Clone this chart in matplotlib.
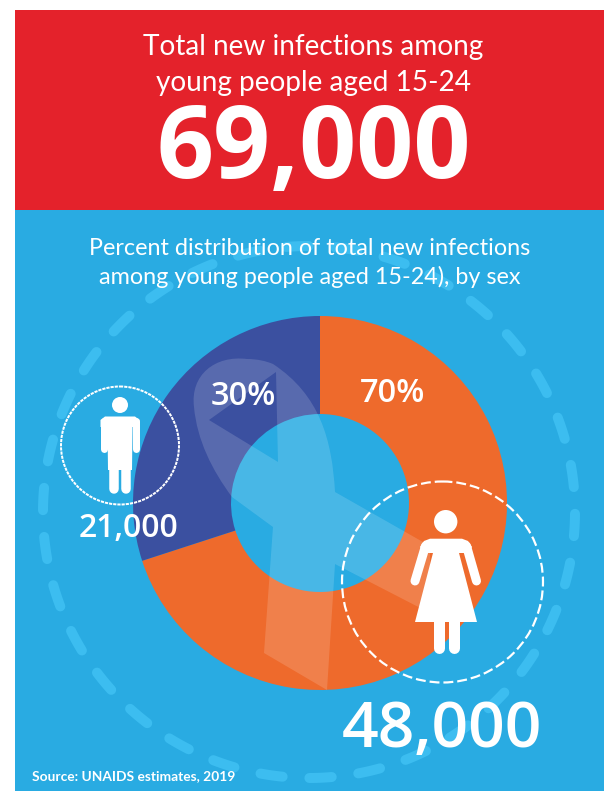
#!/usr/bin/env python3
# Infographic: new infections among young people, split by sex.
# Axes run in pixels of the 604x791 picture, y pointing down.

import numpy as np
import matplotlib
matplotlib.use('Agg')
import matplotlib.pyplot as plt
from matplotlib.patches import Circle, PathPatch, Polygon, Rectangle
from matplotlib.path import Path

sexes = ['Female', 'Male']
percents = [70, 30]
counts = [48000, 21000]

title_lines = ['Total new infections among', 'young people aged 15-24']
subtitle_lines = ['Percent distribution of total new infections',
                  'among young people aged 15-24), by sex']
source = 'Source: UNAIDS estimates, 2019'

RED = '#e4222b'
BLUE = '#29abe2'
RING = '#3cbdf0'
ORANGE = '#ee6a2c'
NAVY = '#3b50a0'
TEXT_FONT = 'Lato'
NUM_FONT = 'Open Sans'


def px(n):
    # line widths are in points, the picture is 100 dpi
    return n * 72 / 100


def draw_ring(ax):
    cx, cy, r = 309, 512, 266
    for i in range(34):
        mid = np.radians(2.8 + i * 360 / 34)
        t = np.linspace(mid - 0.042, mid + 0.042, 12)
        ax.plot(cx + r * np.cos(t), cy + r * np.sin(t), color=RING, lw=px(10),
                solid_capstyle='round', zorder=0.5)


def draw_ribbon(ax):
    verts = [(232, 497),
             (212, 470), (197, 440), (194, 407),
             (190, 375), (215, 355), (247, 359),
             (257, 359), (266, 361), (273, 364),
             (320, 395), (332, 440), (335, 492),
             (430, 546), (430, 613), (335, 564), (327, 690), (264, 653), (273, 527),
             (232, 497),
             (209, 420), (278, 462), (276, 372), (209, 420)]
    codes = ([Path.MOVETO] + [Path.CURVE4] * 12 + [Path.LINETO] * 6 + [Path.CLOSEPOLY]
             + [Path.MOVETO] + [Path.LINETO] * 2 + [Path.CLOSEPOLY])
    ax.add_patch(PathPatch(Path(verts, codes), facecolor='white', edgecolor='none',
                           alpha=0.15, zorder=3))


def limb(ax, xs, ys, width):
    ax.plot(xs, ys, color='white', lw=px(width), solid_capstyle='round', zorder=5)


def draw_man(ax):
    ax.add_patch(Circle((120, 445.5), 59, fill=False, edgecolor='white', lw=px(2),
                        linestyle=(0, (1.6, 0.5)), zorder=4))
    ax.add_patch(Circle((120, 405), 8, color='white', lw=0, zorder=5))
    ax.add_patch(Polygon([(105, 416.5), (135, 416.5), (139.5, 420), (139.5, 427),
                          (132.5, 427), (132, 470), (108, 470), (107.5, 427),
                          (100.5, 427), (100.5, 420)],
                         color='white', lw=0, zorder=5))
    limb(ax, [104, 104], [421, 449], 7)
    limb(ax, [136, 136], [421, 449], 7)
    limb(ax, [114, 114], [455, 488.5], 9.5)
    limb(ax, [126, 126], [455, 488.5], 9.5)


def draw_woman(ax):
    ax.add_patch(Circle((442.5, 582), 100.5, fill=False, edgecolor='white', lw=px(2.2),
                        linestyle=(0, (4.5, 1.8)), zorder=4))
    ax.add_patch(Circle((445.7, 521.7), 11.7, color='white', lw=0, zorder=5))
    ax.add_patch(Polygon([(430, 538.7), (462, 538.7), (468, 541), (472, 547), (468, 553),
                          (459, 553), (477, 622), (415, 622), (433, 553), (424, 553),
                          (420, 547), (424, 541)],
                         color='white', lw=0, zorder=5))
    limb(ax, [425.5, 415], [546, 581], 9)
    limb(ax, [466.5, 476.5], [546, 581], 9)
    limb(ax, [438.5, 438.5], [620, 648], 11)
    limb(ax, [453.5, 453.5], [620, 648], 11)


def label(ax, x, y, s, size, weight='normal', font=TEXT_FONT):
    ax.text(x, y, s, color='white', fontsize=size, fontweight=weight, family=font,
            ha='center', va='baseline', zorder=6)


def main():
    fig = plt.figure(figsize=(6.04, 7.91), dpi=100, facecolor='white')
    ax = fig.add_axes([0, 0, 1, 1])

    ax.add_patch(Rectangle((15, 10), 589, 199.5, color=RED, lw=0, zorder=0))
    ax.add_patch(Rectangle((15, 209.5), 589, 581.5, color=BLUE, lw=0, zorder=0))
    draw_ring(ax)

    # y axis is flipped below, so counterclock here reads clockwise on screen
    ax.pie(percents, colors=[ORANGE, NAVY], center=(320, 503), radius=187,
           startangle=-90, counterclock=True,
           wedgeprops={'width': 98, 'linewidth': 0})
    ax.set_xlim(0, 604)
    ax.set_ylim(791, 0)
    ax.axis('off')

    draw_ribbon(ax)
    draw_man(ax)
    draw_woman(ax)

    label(ax, 313.5, 54.5, title_lines[0], 20.15)
    label(ax, 313.5, 91, title_lines[1], 20.15)
    label(ax, 313.5, 178, f'{sum(counts):,}', 72, 'bold', NUM_FONT)
    label(ax, 309.5, 255, subtitle_lines[0], 16.8)
    label(ax, 309.5, 283.5, subtitle_lines[1], 16.8)

    label(ax, 392.5, 402, f'{percents[0]}%', 23.5, 'semibold', NUM_FONT)
    label(ax, 243.5, 405, f'{percents[1]}%', 23.5, 'semibold', NUM_FONT)
    label(ax, 442, 747, f'{counts[0]:,}', 46.3, 'semibold', NUM_FONT)
    label(ax, 128.5, 537, f'{counts[1]:,}', 23, 'semibold', NUM_FONT)

    ax.text(32, 780, source, color='white', fontsize=9.9, fontweight='bold', family=TEXT_FONT,
            ha='left', va='baseline', zorder=6)

    fig.savefig('out.png', dpi=100, facecolor='white')
    plt.close(fig)


if __name__ == '__main__':
    main()
